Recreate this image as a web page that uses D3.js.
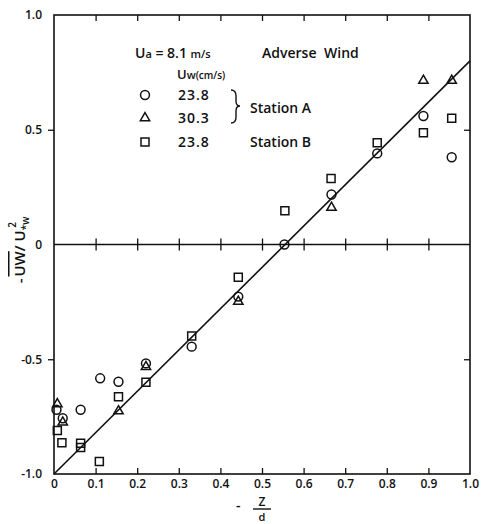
<!DOCTYPE html>
<html>
  <head>
    <meta http-equiv="Content-Type" content="text/html;charset=utf-8">
    <title>Adverse Wind</title>
    <script type="text/javascript" src="https://d3js.org/d3.v7.min.js"></script>
    <style>
      body {
        margin: 0;
        background: #fff;
      }
      svg text {
        font-family: 'Open Sans', 'DejaVu Sans', sans-serif;
        font-weight: 600;
        fill: #111;
      }
      .axis text {
        font-size: 12px;
      }
      .axis line {
        stroke: #111;
        stroke-width: 1.3px;
      }
      .axis path.domain {
        display: none;
      }
      path.fit {
        fill: none;
        stroke: #111;
        stroke-width: 1.6px;
      }
      .mark {
        fill: none;
        stroke: #111;
        stroke-width: 1.5px;
      }
    </style>
  </head>
  <body>
    <div id="chart"></div>
    <script>
// -uw/u*w^2 against -z/d, Ua = 8.1 m/s, adverse wind

var width = 482,
    height = 524;

// station A, Uw = 23.8 cm/s (circles)
var circA = [
  [0.006, -0.72], [0.021, -0.757], [0.064, -0.72], [0.111, -0.583],
  [0.155, -0.598], [0.221, -0.518], [0.331, -0.445], [0.443, -0.227],
  [0.554, 0.0], [0.667, 0.218], [0.777, 0.397], [0.888, 0.56], [0.956, 0.38]
];
// station A, Uw = 30.3 cm/s (triangles)
var triA = [
  [0.008, -0.695], [0.021, -0.775], [0.155, -0.726], [0.221, -0.533],
  [0.443, -0.249], [0.667, 0.161], [0.888, 0.714], [0.956, 0.714]
];
// station B, Uw = 23.8 cm/s (squares)
var sqB = [
  [0.008, -0.81], [0.019, -0.864], [0.064, -0.866], [0.064, -0.884],
  [0.109, -0.946], [0.155, -0.663], [0.221, -0.60], [0.331, -0.399],
  [0.443, -0.143], [0.555, 0.147], [0.666, 0.288], [0.777, 0.443],
  [0.888, 0.487], [0.956, 0.55]
];
// fitted line
var fit = [[0, -1.0], [1.0, 0.8]];

var xTicks = [0, 0.1, 0.2, 0.3, 0.4, 0.5, 0.6, 0.7, 0.8, 0.9, 1.0];
var xInner = [0.1, 0.2, 0.3, 0.4, 0.5, 0.6, 0.7, 0.8, 0.9];
var yTicks = [1.0, 0.5, 0, -0.5, -1.0];
var yInner = [0.5, -0.5];
var yLabels = ["1.0", "0.5", "0", "-0.5", "-1.0"];

var x = d3.scaleLinear().domain([0, 1]).range([54, 470]);
var y = d3.scaleLinear().domain([-1, 1]).range([474, 15]);

var svg = d3.select("#chart").append("svg")
    .attr("width", width)
    .attr("height", height);

// frame
svg.append("rect")
    .attr("x", x(0)).attr("y", y(1))
    .attr("width", x(1) - x(0)).attr("height", y(-1) - y(1))
    .attr("fill", "none")
    .attr("stroke", "#111")
    .attr("stroke-width", 1.6);

// bottom axis: inward ticks, labels
svg.append("g")
    .attr("class", "axis")
    .attr("transform", "translate(0," + y(-1) + ")")
    .call(d3.axisBottom(x).tickValues(xTicks).tickSize(-6).tickPadding(5)
      .tickFormat(function(d) { return d === 0 ? "0" : d3.format(".1f")(d); }))
    .selectAll(".tick line")
    .attr("display", function(d) { return xInner.indexOf(d) < 0 ? "none" : null; });

// top axis
svg.append("g")
    .attr("class", "axis")
    .attr("transform", "translate(0," + y(1) + ")")
    .call(d3.axisTop(x).tickValues(xInner).tickSize(-6).tickFormat(""));

// zero line with crossing ticks
svg.append("line")
    .attr("x1", x(0)).attr("x2", x(1))
    .attr("y1", y(0)).attr("y2", y(0))
    .attr("stroke", "#111").attr("stroke-width", 1.6);
svg.append("g")
    .attr("class", "axis")
    .attr("transform", "translate(0," + (y(0) - 6) + ")")
    .call(d3.axisBottom(x).tickValues(xInner).tickSize(12).tickFormat(""));

// left axis: outward ticks
var yl = svg.append("g")
    .attr("class", "axis")
    .attr("transform", "translate(" + x(0) + ",0)")
    .call(d3.axisLeft(y).tickValues(yTicks).tickSize(6).tickPadding(6)
      .tickFormat(function(d, i) { return yLabels[i]; }));
yl.selectAll(".tick line")
    .attr("display", function(d) { return yInner.indexOf(d) < 0 ? "none" : null; });

// right axis: inward ticks
svg.append("g")
    .attr("class", "axis")
    .attr("transform", "translate(" + x(1) + ",0)")
    .call(d3.axisRight(y).tickValues(yInner).tickSize(-6).tickFormat(""));

// fitted line
svg.append("path")
    .datum(fit)
    .attr("class", "fit")
    .attr("d", d3.line().x(function(d) { return x(d[0]); }).y(function(d) { return y(d[1]); }));

// marks
var sym = {
  circle: d3.symbol().type(d3.symbolCircle).size(62),
  triangle: d3.symbol().type(d3.symbolTriangle).size(38),
  square: d3.symbol().type(d3.symbolSquare).size(64)
};

function drawMarks(data, kind) {
  svg.selectAll(".m-" + kind)
      .data(data)
    .enter().append("path")
      .attr("class", "mark m-" + kind)
      .attr("d", sym[kind])
      .attr("transform", function(d) { return "translate(" + x(d[0]) + "," + y(d[1]) + ")"; });
}
drawMarks(circA, "circle");
drawMarks(triA, "triangle");
drawMarks(sqB, "square");

// legend
var lg = svg.append("g");
lg.append("text").attr("x", 135).attr("y", 58).style("font-size", "14px")
    .html('U<tspan font-size="11px">a</tspan> = 8.1 <tspan font-size="11px">m/s</tspan>');
lg.append("text").attr("x", 262).attr("y", 58).style("font-size", "14px")
    .attr("word-spacing", "4px").text("Adverse  Wind");
lg.append("text").attr("x", 177).attr("y", 79).style("font-size", "13px")
    .html('U<tspan font-size="11px">w</tspan><tspan font-size="10px">(cm/s)</tspan>');

var rows = [
  {kind: "circle", label: "23.8", y: 95},
  {kind: "triangle", label: "30.3", y: 118},
  {kind: "square", label: "23.8", y: 142}
];
rows.forEach(function(r) {
  lg.append("path")
      .attr("class", "mark")
      .attr("d", sym[r.kind])
      .attr("transform", "translate(145," + r.y + ")");
  lg.append("text").attr("x", 178).attr("y", r.y + 5)
      .style("font-size", "14px").attr("letter-spacing", "1px").text(r.label);
});
// brace
lg.append("path")
    .attr("d", "M231,90 Q236,90 236,96 L236,101 Q236,106 240,106 Q236,106 236,111 L236,117 Q236,123 231,123")
    .attr("fill", "none").attr("stroke", "#111").attr("stroke-width", 1.4);
lg.append("text").attr("x", 250).attr("y", 113).style("font-size", "14px").text("Station A");
lg.append("text").attr("x", 250).attr("y", 147).style("font-size", "14px").text("Station B");

// y axis label
var yt = svg.append("g").attr("transform", "translate(25,250) rotate(-90)");
var ylab = yt.append("text").attr("text-anchor", "middle").style("font-size", "15px");
ylab.append("tspan").text("-");
ylab.append("tspan").attr("dx", 2).attr("text-decoration", "overline").text("UW");
ylab.append("tspan").text("/ U");
ylab.append("tspan").attr("font-size", "10px").attr("dy", 4).text("*w");
ylab.append("tspan").attr("font-size", "10px").attr("dx", -11).attr("dy", -13).text("2");

// x axis label
svg.append("text").attr("x", 236).attr("y", 510).style("font-size", "14px").text("-");
svg.append("text").attr("x", 262).attr("y", 506).attr("text-anchor", "middle").style("font-size", "12px").text("Z");
svg.append("line").attr("x1", 253).attr("x2", 271).attr("y1", 509).attr("y2", 509)
    .attr("stroke", "#111").attr("stroke-width", 1.4);
svg.append("text").attr("x", 262).attr("y", 521).attr("text-anchor", "middle").style("font-size", "11px").text("d");
    </script>
  </body>
</html>
